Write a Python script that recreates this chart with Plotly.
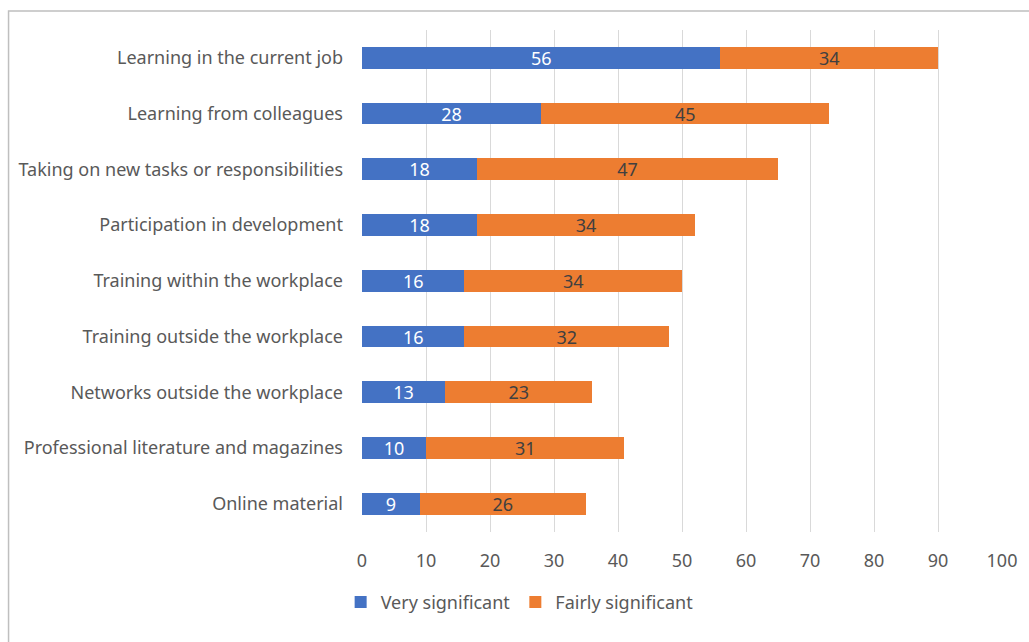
import plotly.graph_objects as go

categories = [
    "Learning in the current job",
    "Learning from colleagues",
    "Taking on new tasks or responsibilities",
    "Participation in development",
    "Training within the workplace",
    "Training outside the workplace",
    "Networks outside the workplace",
    "Professional literature and magazines",
    "Online material",
]
very_significant = [56, 28, 18, 18, 16, 16, 13, 10, 9]
fairly_significant = [34, 45, 47, 34, 34, 32, 23, 31, 26]
x_ticks = [0, 10, 20, 30, 40, 50, 60, 70, 80, 90, 100]

FONT = "Noto Sans"
FS = 18
GRAY = "#595959"

fig = go.Figure()
fig.add_trace(go.Bar(
    y=categories, x=very_significant, orientation="h",
    name="Very significant", marker=dict(color="#4472C4", line=dict(width=0)),
    text=very_significant, textposition="inside", insidetextanchor="middle",
    textangle=0, constraintext="none",
    textfont=dict(color="white", size=FS, family=FONT),
    hoverinfo="skip",
))
fig.add_trace(go.Bar(
    y=categories, x=fairly_significant, orientation="h",
    name="Fairly significant", marker=dict(color="#ED7D31", line=dict(width=0)),
    text=fairly_significant, textposition="inside", insidetextanchor="middle",
    textangle=0, constraintext="none",
    textfont=dict(color="#404040", size=FS, family=FONT),
    hoverinfo="skip",
))

fig.update_layout(
    barmode="stack",
    width=1029, height=642,
    margin=dict(l=362, r=26, t=30, b=107),
    paper_bgcolor="white", plot_bgcolor="white",
    font=dict(family=FONT, size=FS, color=GRAY),
    bargap=0.61,
    xaxis=dict(
        range=[0, 100], tickvals=x_ticks, showgrid=True, gridcolor="#D9D9D9",
        gridwidth=1, zeroline=False, showline=False, ticks="",
        ticklabelstandoff=16,
        tickfont=dict(size=FS, color=GRAY, family=FONT),
    ),
    yaxis=dict(
        categoryorder="array", categoryarray=categories[::-1],
        showgrid=False, zeroline=False, showline=False, ticks="",
        ticklabelstandoff=18,
        tickfont=dict(size=FS, color=GRAY, family=FONT),
    ),
    legend=dict(
        orientation="h", xref="container", x=0.505, xanchor="center",
        yref="container", y=0.062, yanchor="middle",
        font=dict(size=FS, color=GRAY, family=FONT),
        itemwidth=30, traceorder="normal",
    ),
    showlegend=True,
)

fig.add_shape(
    type="rect", xref="paper", yref="paper",
    x0=-354/641, x1=1.2, y0=-0.5, y1=1 + 19/505,
    line=dict(color="#BFBFBF", width=1.5), fillcolor="rgba(0,0,0,0)", layer="below",
)

fig.write_html("out.html")
